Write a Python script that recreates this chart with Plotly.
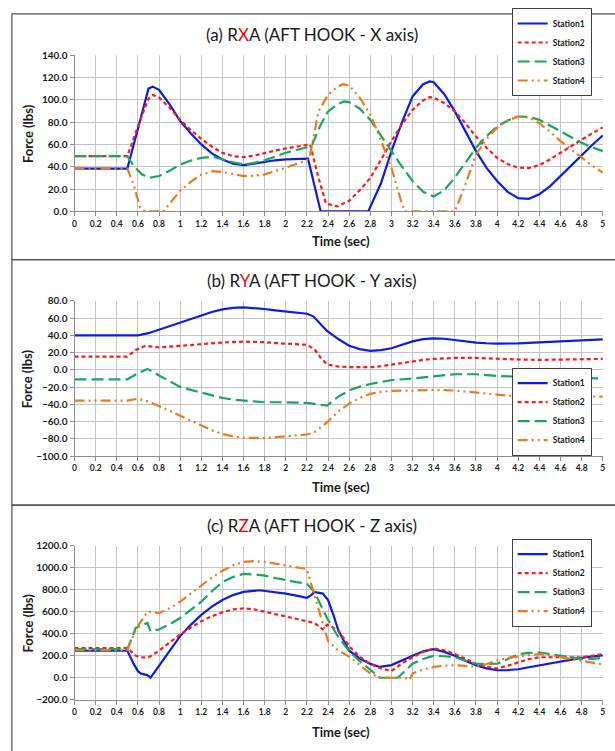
import plotly.graph_objects as go

# ---------------- data ----------------
STATIONS = ["Station1", "Station2", "Station3", "Station4"]
TIME_TICKS = [round(i * 0.2, 1) for i in range(26)]
TIME_LABELS = [f"{v:g}" for v in TIME_TICKS]

# Panel (a) RXA
a_t1 = [0, 0.5, 0.6, 0.7, 0.74, 0.8, 0.9, 1.0, 1.1, 1.2, 1.3, 1.4, 1.5, 1.6, 1.7, 1.8, 1.9, 2.0, 2.1, 2.21, 2.33, 2.78, 2.9, 3.0, 3.1, 3.2, 3.3, 3.36, 3.4, 3.5, 3.6, 3.7, 3.8, 3.9, 4.0, 4.1, 4.2, 4.3, 4.4, 4.5, 4.6, 4.7, 4.8, 4.9, 5.0]
a_s1 = [38.3, 38.3, 74, 110, 111.8, 109, 96, 81, 70, 60, 52, 46.5, 42.7, 41.5, 42.8, 44.5, 45.8, 46.6, 47, 47.2, 0, 0, 25, 54, 80, 103, 114, 116.5, 115.7, 105, 89.6, 72, 54, 39, 27.3, 17.5, 11.9, 11.3, 15.4, 22.5, 31.7, 41, 51, 59.5, 68]
a_t2 = [0, 0.5, 0.6, 0.7, 0.74, 0.8, 0.9, 1.0, 1.1, 1.2, 1.3, 1.4, 1.5, 1.6, 1.7, 1.8, 1.9, 2.0, 2.1, 2.23, 2.31, 2.38, 2.49, 2.6, 2.7, 2.8, 2.9, 3.0, 3.1, 3.2, 3.3, 3.36, 3.4, 3.5, 3.6, 3.7, 3.8, 3.9, 4.0, 4.1, 4.2, 4.26, 4.3, 4.4, 4.5, 4.6, 4.7, 4.8, 4.9, 5.0]
a_s2 = [49.5, 49.5, 76, 101, 104.4, 102, 93, 82, 73, 65, 58, 52.5, 49.5, 48.6, 50, 52.5, 54.5, 56.4, 58, 60, 30, 7, 4.5, 9.5, 19, 30, 46, 63, 78, 91, 99.5, 102.3, 102, 97, 89.6, 79, 67, 57, 48, 42.5, 39.2, 38.6, 38.8, 41.5, 46.5, 52.5, 58.5, 64.4, 70, 75.3]
a_t3 = [0, 0.5, 0.56, 0.64, 0.72, 0.8, 0.9, 1.0, 1.1, 1.2, 1.31, 1.4, 1.5, 1.6, 1.7, 1.8, 1.9, 2.0, 2.1, 2.2, 2.25, 2.33, 2.4, 2.49, 2.55, 2.6, 2.7, 2.8, 2.9, 3.0, 3.1, 3.2, 3.3, 3.4, 3.5, 3.6, 3.7, 3.8, 3.9, 4.0, 4.1, 4.2, 4.3, 4.4, 4.5, 4.6, 4.7, 4.8, 4.9, 5.0]
a_s3 = [49.5, 49.5, 40.6, 33, 30.3, 31.7, 36.5, 42, 45.5, 48, 49, 46.6, 44, 42, 43.5, 45.7, 49, 52.5, 55, 57.5, 60, 77.7, 89.6, 96, 98.5, 97.9, 92, 82, 68, 54, 40, 27.3, 17.5, 13.3, 19, 30.3, 44, 57, 67.5, 76, 81.5, 85, 84.8, 82, 77, 71.8, 66.5, 61.4, 57.5, 54]
a_t4 = [0, 0.5, 0.56, 0.62, 0.67, 0.84, 0.9, 1.0, 1.1, 1.2, 1.31, 1.4, 1.5, 1.6, 1.7, 1.8, 1.9, 2.0, 2.1, 2.2, 2.23, 2.31, 2.4, 2.49, 2.54, 2.6, 2.7, 2.8, 2.88, 3.0, 3.1, 3.13, 3.6, 3.7, 3.8, 3.9, 4.0, 4.1, 4.2, 4.3, 4.4, 4.5, 4.6, 4.7, 4.8, 4.9, 5.0]
a_s4 = [38.3, 38.3, 24, 3.5, 0, 0, 7, 18.4, 26.5, 33, 36, 35.3, 33.5, 31.7, 32, 33.2, 36, 39, 42.5, 45.7, 51, 89.6, 104.4, 111.8, 114, 112.7, 102, 86.6, 68.8, 39, 6.5, 0, 0, 24, 51, 65, 75, 81.5, 85, 84, 79, 71.5, 63, 55.5, 48, 41, 34.7]

# Panel (b) RYA
b_t1 = [0, 0.6, 0.7, 0.8, 0.9, 1.0, 1.1, 1.2, 1.3, 1.4, 1.5, 1.6, 1.7, 1.8, 1.9, 2.0, 2.1, 2.2, 2.26, 2.32, 2.39, 2.5, 2.6, 2.7, 2.8, 2.9, 3.0, 3.1, 3.2, 3.3, 3.4, 3.5, 3.6, 3.7, 3.8, 3.9, 4.0, 4.2, 4.4, 4.6, 4.8, 5.0]
b_s1 = [40, 40, 42.5, 46.7, 51, 55, 59.5, 63.7, 67, 70, 71.8, 72.4, 71.8, 70.5, 69, 67.5, 66.3, 65, 62, 54, 45, 35.4, 28, 24, 22, 22.8, 25, 29, 33, 35.5, 36.5, 36, 34.5, 32.8, 31.6, 30.8, 30.4, 30.6, 31.6, 32.7, 34.2, 35.4]
b_t2 = [0, 0.5, 0.58, 0.67, 0.8, 0.9, 1.0, 1.2, 1.4, 1.6, 1.8, 2.0, 2.2, 2.27, 2.33, 2.39, 2.5, 2.6, 2.8, 2.9, 3.0, 3.1, 3.2, 3.3, 3.4, 3.6, 3.8, 4.0, 4.2, 4.4, 4.6, 4.8, 5.0]
b_s2 = [15.3, 15.3, 23, 27.8, 26, 27, 27.8, 29.7, 31.6, 32.7, 32, 30.4, 29, 24, 14, 6.2, 3.8, 3.2, 3, 4.2, 6.2, 8, 10, 11.5, 12.7, 13.8, 13.8, 12.7, 12, 11.5, 12, 12.3, 12.7]
b_t3 = [0, 0.5, 0.6, 0.69, 0.8, 0.9, 1.0, 1.1, 1.2, 1.3, 1.4, 1.5, 1.6, 1.8, 2.0, 2.2, 2.3, 2.39, 2.45, 2.5, 2.61, 2.7, 2.8, 2.9, 3.0, 3.2, 3.4, 3.6, 3.8, 4.0, 4.2, 4.4, 4.6, 4.8, 5.0]
b_s3 = [-11, -11, -4, 1.1, -6.5, -13.5, -19.8, -23.3, -26.3, -29.7, -32.7, -34.5, -35.7, -37.6, -37.6, -38.4, -40, -41.4, -35.5, -30.8, -23.3, -19.5, -16.4, -13.8, -11.9, -10, -7.2, -5.1, -5.1, -7, -8, -8.5, -9, -9.5, -10]
b_t4 = [0, 0.5, 0.6, 0.69, 0.8, 0.9, 1.0, 1.1, 1.2, 1.3, 1.4, 1.5, 1.6, 1.8, 2.0, 2.2, 2.27, 2.33, 2.39, 2.5, 2.61, 2.7, 2.8, 2.9, 3.0, 3.2, 3.4, 3.6, 3.8, 4.0, 4.1, 4.2, 4.4, 4.6, 4.8, 5.0]
b_s4 = [-35.7, -35.7, -33.5, -36.5, -42, -47.5, -53.5, -59.3, -64.8, -70, -74.3, -77.2, -78.8, -79.2, -77, -75, -72.4, -67, -61, -47.8, -38.4, -32.5, -27.8, -25.5, -24.4, -24, -23.3, -24, -26.3, -28, -30, -31, -31.5, -31, -31, -31]

# Panel (c) RZA
c_t1 = [0, 0.5, 0.56, 0.6, 0.63, 0.69, 0.72, 0.78, 0.9, 1.0, 1.1, 1.2, 1.3, 1.4, 1.5, 1.6, 1.75, 1.9, 2.0, 2.1, 2.2, 2.24, 2.27, 2.35, 2.4, 2.45, 2.5, 2.6, 2.7, 2.8, 2.89, 3.0, 3.1, 3.2, 3.3, 3.4, 3.5, 3.6, 3.7, 3.8, 3.9, 4.0, 4.1, 4.2, 4.3, 4.4, 4.5, 4.6, 4.7, 4.8, 4.9, 5.0]
c_s1 = [245, 245, 126, 60, 37, 24, 0, 83, 245, 378, 480, 571, 645, 705, 750, 779, 794, 778, 764, 745, 725, 749, 779, 764, 705, 570, 423, 245, 175, 126, 98, 115, 160, 200, 240, 260, 235, 200, 155, 113, 85, 68, 70, 77, 95, 113, 127, 142, 160, 180, 193, 203]
c_t2 = [0, 0.5, 0.58, 0.63, 0.7, 0.8, 0.9, 1.0, 1.1, 1.2, 1.3, 1.4, 1.5, 1.6, 1.7, 1.8, 1.9, 2.0, 2.1, 2.2, 2.27, 2.35, 2.39, 2.45, 2.5, 2.61, 2.7, 2.8, 2.9, 3.0, 3.1, 3.2, 3.3, 3.4, 3.5, 3.6, 3.7, 3.8, 3.9, 4.0, 4.1, 4.2, 4.3, 4.4, 4.5, 4.6, 4.7, 4.8, 4.9, 5.0]
c_s2 = [270, 270, 200, 185, 185, 245, 320, 393, 455, 512, 558, 595, 620, 630, 620, 601, 578, 556, 532, 512, 497, 439, 482, 455, 423, 275, 190, 126, 85, 62, 130, 186, 235, 266, 250, 216, 170, 127, 100, 83, 110, 141, 168, 186, 186, 180, 182, 186, 200, 215]
c_t3 = [0, 0.5, 0.58, 0.69, 0.72, 0.8, 0.9, 1.0, 1.1, 1.2, 1.3, 1.4, 1.5, 1.6, 1.7, 1.8, 1.9, 2.0, 2.1, 2.2, 2.27, 2.33, 2.39, 2.5, 2.61, 2.7, 2.8, 2.89, 3.06, 3.2, 3.3, 3.4, 3.5, 3.6, 3.7, 3.8, 3.9, 4.0, 4.1, 4.2, 4.3, 4.4, 4.5, 4.6, 4.7, 4.8, 4.9, 5.0]
c_s3 = [260, 260, 453, 497, 423, 438, 485, 542, 615, 690, 785, 868, 915, 942, 938, 927, 905, 883, 868, 853, 779, 660, 542, 364, 231, 150, 68, 0, 0, 127, 170, 200, 195, 186, 155, 127, 125, 127, 170, 215, 225, 230, 215, 200, 185, 171, 172, 180]
c_t4 = [0, 0.5, 0.58, 0.69, 0.8, 0.9, 1.0, 1.1, 1.2, 1.3, 1.4, 1.5, 1.6, 1.7, 1.8, 1.9, 2.0, 2.1, 2.2, 2.27, 2.35, 2.4, 2.5, 2.61, 2.72, 2.8, 2.89, 3.13, 3.17, 3.2, 3.3, 3.4, 3.5, 3.6, 3.7, 3.8, 3.9, 4.0, 4.1, 4.2, 4.3, 4.4, 4.5, 4.6, 4.7, 4.8, 4.9, 5.0]
c_s4 = [251, 251, 438, 601, 586, 630, 690, 765, 838, 910, 972, 1020, 1052, 1058, 1052, 1035, 1016, 1000, 986, 749, 482, 334, 245, 187, 98, 39, 0, 0, -20, 39, 75, 98, 110, 113, 108, 98, 125, 157, 180, 195, 205, 215, 205, 187, 170, 157, 140, 121]

# ---------------- styling ----------------
W, H = 615, 751
FONT = "Lato"
COLORS = ["#0A1EE0", "#FF1A1A", "#17A85C", "#EE7A1E"]
DASHES = ["solid", "4px,3px", "12px,5px", "10px,4px,2px,4px,2px,4px"]
GRID = "#C4C4C4"

def px_x(p):
    return p / W

def px_y(p):
    return 1 - p / H

PLOT_L, PLOT_R = 73, 605

panels = [
    dict(letter="(a) R", axis_letter="X", rest="A (AFT HOOK - X axis)",
         series=[(a_t1, a_s1), (a_t2, a_s2), (a_t3, a_s3), (a_t4, a_s4)],
         yr=[0, 140], dt=20, top=49, bot=208, title_y=28, xlab_y=238,
         legend_top=1, panel_top=7, panel_bot=257),
    dict(letter="(b) R", axis_letter="Y", rest="A (AFT HOOK - Y axis)",
         series=[(b_t1, b_s1), (b_t2, b_s2), (b_t3, b_s3), (b_t4, b_s4)],
         yr=[-100, 80], dt=20, top=299, bot=457, title_y=278, xlab_y=488,
         legend_top=367, panel_top=257, panel_bot=507),
    dict(letter="(c) R", axis_letter="Z", rest="A (AFT HOOK - Z axis)",
         series=[(c_t1, c_s1), (c_t2, c_s2), (c_t3, c_s3), (c_t4, c_s4)],
         yr=[-200, 1200], dt=200, top=548, bot=705, title_y=528, xlab_y=738,
         legend_top=541, panel_top=507, panel_bot=770),
]

fig = go.Figure()
layout = dict(width=W, height=H, margin=dict(l=0, r=0, t=0, b=0),
              paper_bgcolor="white", plot_bgcolor="white",
              font=dict(family=FONT, color="#1a1a1a"), showlegend=True)
annotations = []
shapes = []

for i, p in enumerate(panels):
    n = "" if i == 0 else str(i + 1)
    xa, ya = "x" + n, "y" + n
    leg = "legend" if i == 0 else "legend" + str(i + 1)
    for k, (t, v) in enumerate(p["series"]):
        fig.add_trace(go.Scatter(
            x=t, y=v, mode="lines", name=STATIONS[k],
            xaxis=xa, yaxis=ya, legend=leg, legendgroup=f"g{i}{k}",
            line=dict(color=COLORS[k], width=2.2, dash=DASHES[k]),
            hoverinfo="skip"))
    layout["xaxis" + n] = dict(
        domain=[px_x(PLOT_L), px_x(PLOT_R)], anchor=ya, range=[0, 5.003],
        tickvals=TIME_TICKS, ticktext=TIME_LABELS, ticklabeloverflow="allow",
        showgrid=True, gridcolor=GRID, gridwidth=1,
        showline=True, linecolor="#8c8c8c", linewidth=1,
        ticks="outside", ticklen=4, tickcolor="#8c8c8c",
        tickfont=dict(size=8.5, family=FONT, weight="bold", color="#1a1a1a"),
        zeroline=False, fixedrange=True)
    layout["yaxis" + n] = dict(
        domain=[px_y(p["bot"]), px_y(p["top"])], anchor=xa, range=p["yr"],
        dtick=p["dt"], tick0=p["yr"][0], tickformat=".1f",
        showgrid=True, gridcolor=GRID, gridwidth=1,
        showline=True, linecolor="#8c8c8c", linewidth=1,
        ticks="outside", ticklen=4, tickcolor="#8c8c8c",
        tickfont=dict(size=10, family=FONT, weight="bold", color="#1a1a1a"),
        zeroline=False, fixedrange=True)
    layout[leg] = dict(
        x=px_x(513), y=px_y(p["legend_top"]), xanchor="left", yanchor="top",
        bgcolor="white", bordercolor="#404040", borderwidth=1,
        font=dict(size=8.5, family=FONT, weight="bold", color="#1a1a1a"),
        traceorder="grouped", tracegroupgap=0, itemwidth=30,
        itemclick=False, itemdoubleclick=False)
    title = (f"{p['letter']}<span style='color:#FF0000'>{p['axis_letter']}</span>"
             f"{p['rest']}")
    annotations.append(dict(text=title, x=px_x(312), y=px_y(p["title_y"]),
                            xref="paper", yref="paper", showarrow=False,
                            xanchor="center", yanchor="middle",
                            font=dict(size=17, family=FONT, color="#1a1a1a")))
    annotations.append(dict(text="<b>Time (sec)</b>", x=px_x(341), y=px_y(p["xlab_y"]),
                            xref="paper", yref="paper", showarrow=False,
                            xanchor="center", yanchor="middle",
                            font=dict(size=13, family=FONT, color="#1a1a1a")))
    annotations.append(dict(text="<b>Force (lbs)</b>", x=px_x(26),
                            y=px_y((p["top"] + p["bot"]) / 2),
                            xref="paper", yref="paper", showarrow=False,
                            textangle=-90, xanchor="center", yanchor="middle",
                            font=dict(size=13, family=FONT, color="#1a1a1a")))
    shapes.append(dict(type="rect", xref="paper", yref="paper",
                       x0=px_x(10), x1=px_x(640), y0=px_y(p["panel_bot"]),
                       y1=px_y(p["panel_top"]),
                       line=dict(color="#505050", width=1.2), layer="below"))

layout["annotations"] = annotations
layout["shapes"] = shapes
fig.update_layout(**layout)
fig.write_html("out.html",
               config={"displayModeBar": False, "staticPlot": True},
               post_script="document.body.style.margin='0';"
                           "document.body.style.overflow='hidden';")
